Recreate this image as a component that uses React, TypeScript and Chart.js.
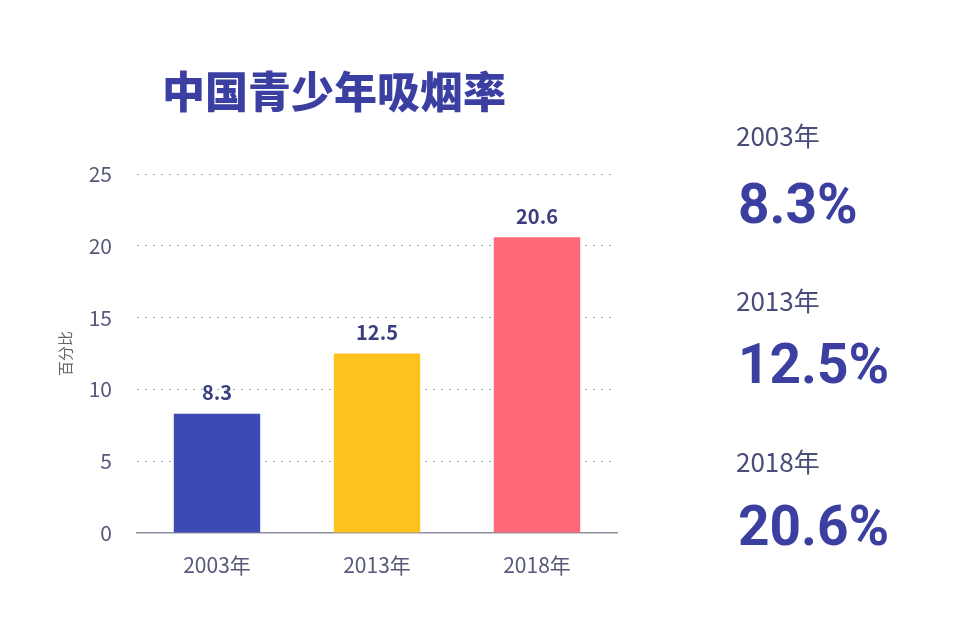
import React, { useEffect, useRef } from "react";
import { Chart, registerables } from "chart.js";

Chart.register(...registerables);

const titleText = "中国青少年吸烟率";
const categories = ["2003年", "2013年", "2018年"];
const values = [8.3, 12.5, 20.6];
const barColors = ["#3D4AB6", "#FEC21F", "#FF6878"];
const yTicks = [0, 5, 10, 15, 20, 25];
const yAxisTitle = "百分比";
const sideLabels = ["2003年", "2013年", "2018年"];
const sideValues = ["8.3%", "12.5%", "20.6%"];

const CJK = '"Noto Sans CJK SC", "Noto Sans", sans-serif';

const valueLabelPlugin = {
  id: "valueLabels",
  afterDatasetsDraw(chart: any) {
    const ctx = chart.ctx;
    const meta = chart.getDatasetMeta(0);
    ctx.save();
    ctx.font = `bold 20px ${CJK}`;
    ctx.fillStyle = "#3A3D7E";
    ctx.textAlign = "center";
    ctx.textBaseline = "middle";
    meta.data.forEach((el: any, i: number) => {
      const v = chart.data.datasets[0].data[i];
      ctx.fillText(String(v), el.x, el.y - 21);
    });
    ctx.restore();
  },
};

export default function App() {
  const canvasRef = useRef<HTMLCanvasElement | null>(null);

  useEffect(() => {
    if (!canvasRef.current) return;
    const chart = new Chart(canvasRef.current, {
      type: "bar",
      data: {
        labels: categories,
        datasets: [
          {
            data: values,
            backgroundColor: barColors,
            barPercentage: 0.54,
            categoryPercentage: 1,
          },
        ],
      },
      options: {
        animation: false,
        responsive: false,
        maintainAspectRatio: false,
        layout: { padding: { left: 40, right: 342, top: 174, bottom: 55 } },
        plugins: { legend: { display: false }, tooltip: { enabled: false } },
        scales: {
          x: {
            grid: { display: false },
            border: { display: true, color: "#8E90A0", width: 1.5 },
            ticks: {
              padding: 11,
              color: "#555879",
              font: { family: CJK, size: 21 },
            },
            afterFit: (s: any) => {
              s.height = 50;
            },
          },
          y: {
            min: 0,
            max: 25,
            afterBuildTicks: (s: any) => {
              s.ticks = yTicks.map((v) => ({ value: v }));
            },
            grid: {
              drawTicks: false,
              color: (c: any) => (c.tick && c.tick.value === 0 ? "rgba(0,0,0,0)" : "#ABABB5"),
              lineWidth: 1,
            },
            border: { display: false, dash: [2, 6] },
            ticks: {
              padding: 25,
              color: "#555879",
              font: { family: CJK, size: 21 },
            },
            title: {
              display: true,
              text: yAxisTitle,
              color: "#666",
              font: { family: CJK, size: 15 },
              padding: { top: 16, bottom: 0 },
            },
            afterFit: (s: any) => {
              s.width = 97;
            },
          },
        },
      },
      plugins: [valueLabelPlugin],
    });
    return () => chart.destroy();
  }, []);

  const valueTops = [177, 337, 499];
  const labelTops = [122, 287, 448];

  return (
    <div
      style={{
        position: "absolute",
        left: 0,
        top: 0,
        width: 959,
        height: 638,
        background: "#fff",
        overflow: "hidden",
      }}
    >
      <canvas
        ref={canvasRef}
        width={959}
        height={638}
        style={{ position: "absolute", left: 0, top: 0, width: 959, height: 638 }}
      />
      <div
        style={{
          position: "absolute",
          left: 162,
          top: 68,
          fontFamily: CJK,
          fontWeight: 900,
          fontSize: 43,
          lineHeight: "43px",
          color: "#3B3FA2",
          whiteSpace: "nowrap",
        }}
      >
        {titleText}
      </div>
      {sideLabels.map((t, i) => (
        <div
          key={"l" + i}
          style={{
            position: "absolute",
            left: 736,
            top: labelTops[i],
            fontFamily: CJK,
            fontSize: 26,
            lineHeight: "26px",
            color: "#4A4D78",
            whiteSpace: "nowrap",
          }}
        >
          {t}
        </div>
      ))}
      {sideValues.map((t, i) => (
        <div
          key={"v" + i}
          style={{
            position: "absolute",
            left: 738,
            top: valueTops[i],
            fontFamily: "Roboto, sans-serif",
            fontWeight: 700,
            fontSize: 55,
            lineHeight: "55px",
            color: "#3A3FA0",
            whiteSpace: "nowrap",
          }}
        >
          {t}
        </div>
      ))}
    </div>
  );
}
